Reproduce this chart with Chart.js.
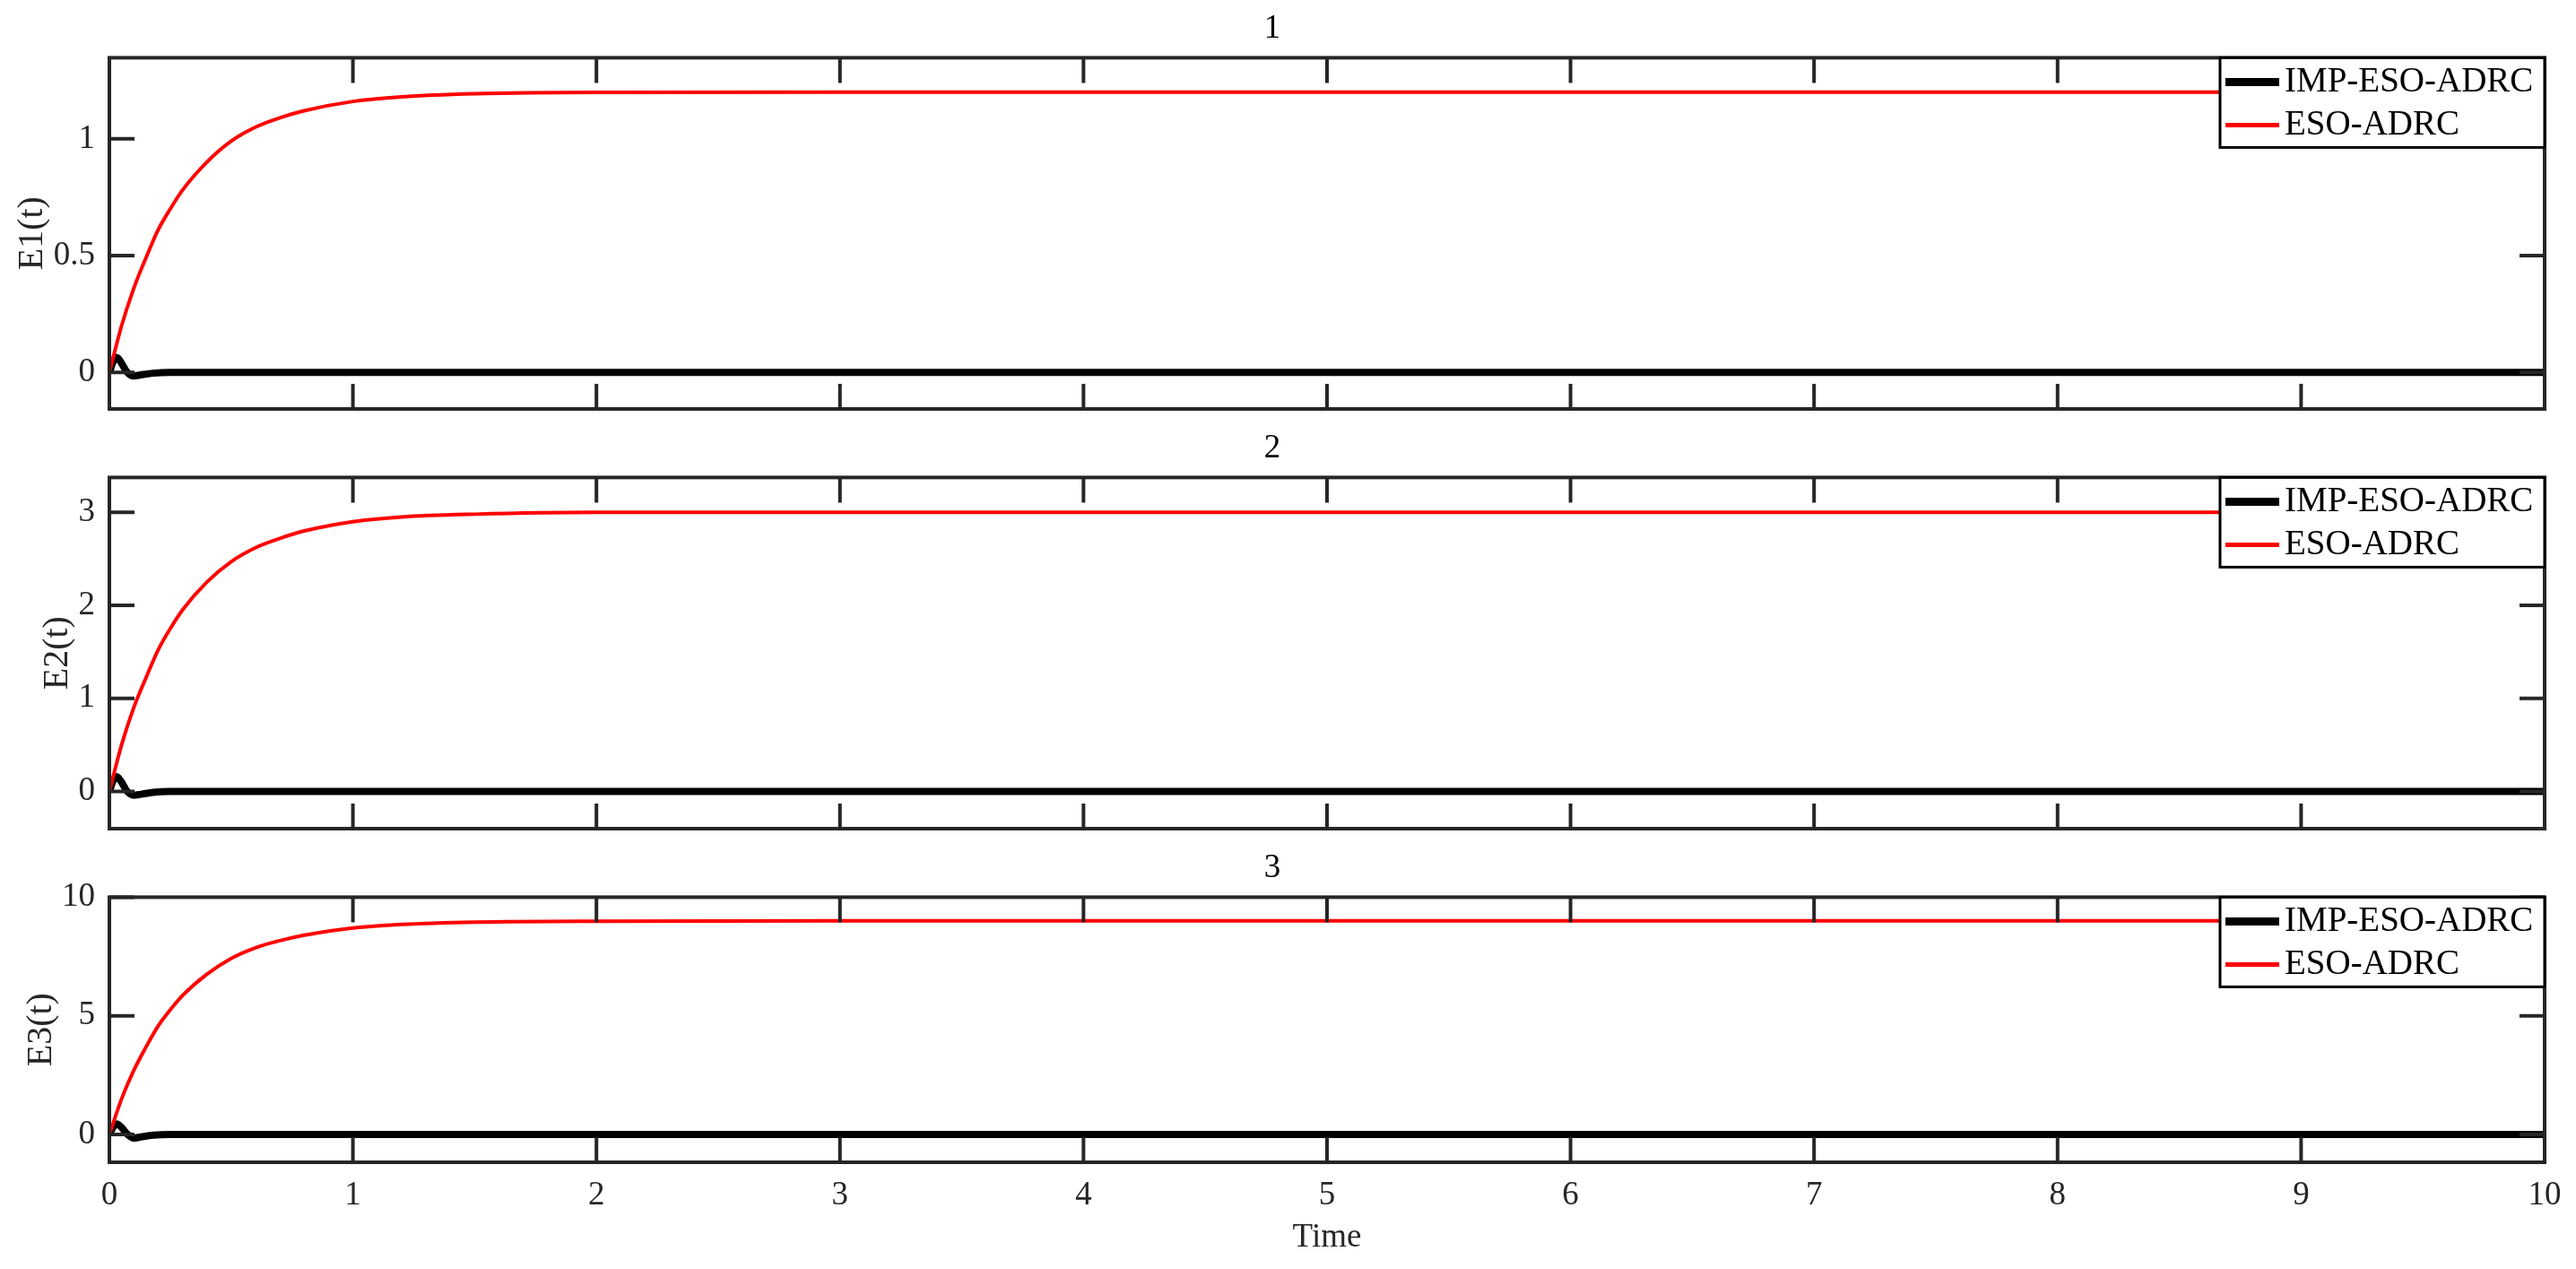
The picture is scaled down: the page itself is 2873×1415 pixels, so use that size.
<!DOCTYPE html>
<html>
<head>
<meta charset="utf-8">
<script src="https://cdn.jsdelivr.net/npm/chart.js@4.4.0/dist/chart.umd.min.js"></script>
<style>
  body { margin: 0; background: #fff; }
  #wrap { position: relative; width: 2873px; height: 1415px; }
  #wrap canvas { position: absolute; left: 0; }
</style>
</head>
<body>
<div id="wrap">
  <canvas id="c1" width="2873" height="466" style="top:0px"></canvas>
  <canvas id="c2" width="2873" height="466" style="top:468px"></canvas>
  <canvas id="c3" width="2873" height="479" style="top:936px"></canvas>
</div>
<script>
// values
const seriesNames = ['IMP-ESO-ADRC', 'ESO-ADRC'];
const panelTitles = ['1', '2', '3'];
const yTitles = ['E1(t)', 'E2(t)', 'E3(t)'];
const timeTicks = [0, 1, 2, 3, 4, 5, 6, 7, 8, 9, 10];

const redTime = [0, 0.05, 0.1, 0.15, 0.2, 0.25, 0.3, 0.4, 0.5, 0.6, 0.7, 0.8, 1.0, 1.2, 1.5, 2.0, 3.0, 10];
const red1 = [0, 0.20, 0.36, 0.49, 0.61, 0.70, 0.78, 0.90, 0.99, 1.05, 1.09, 1.12, 1.16, 1.18, 1.193, 1.199, 1.2, 1.2];
const red2 = [0, 0.50, 0.90, 1.22, 1.52, 1.75, 1.95, 2.25, 2.47, 2.62, 2.72, 2.80, 2.90, 2.95, 2.98, 3.0, 3.0, 3.0];
const red3 = [0, 1.50, 2.70, 3.68, 4.57, 5.25, 5.85, 6.75, 7.42, 7.87, 8.17, 8.40, 8.70, 8.85, 8.95, 8.99, 9.0, 9.0];

const blackTime = [0, 0.015, 0.03, 0.05, 0.07, 0.1, 0.13, 0.18, 0.25, 10];
const black1 = [0, 0.045, 0.065, 0.04, 0.005, -0.015, -0.01, -0.003, 0, 0];
const black2 = [0, 0.11, 0.16, 0.1, 0.01, -0.04, -0.03, -0.01, 0, 0];
const black3 = [0, 0.3, 0.45, 0.3, 0.05, -0.15, -0.1, -0.03, 0, 0];

const yTicks1 = [0, 0.5, 1];
const yTicks2 = [0, 1, 2, 3];
const yTicks3 = [0, 5, 10];
const yRange1 = [-0.156, 1.347];
const yRange2 = [-0.40, 3.375];
const yRange3 = [-1.17, 10];

Chart.defaults.font.family = "'Liberation Serif', 'Times New Roman', serif";
Chart.defaults.color = '#262626';

const axisColor = '#262626';
const tickLen = 28;

const toPoints = (xs, ys) => xs.map((x, i) => ({ x: x, y: ys[i] }));

// MATLAB-like box with inward ticks, plus the boxed legend in the corner
const framePlugin = {
  id: 'frame',
  afterDatasetsDraw(chart, args, opts) {
    const { ctx, chartArea: a, scales } = chart;
    ctx.save();
    ctx.strokeStyle = axisColor;
    ctx.lineWidth = 4;
    ctx.beginPath();
    timeTicks.forEach(v => {
      const px = scales.x.getPixelForValue(v);
      ctx.moveTo(px, a.bottom); ctx.lineTo(px, a.bottom - tickLen);
      ctx.moveTo(px, a.top); ctx.lineTo(px, a.top + tickLen);
    });
    opts.yTicks.forEach(v => {
      const py = scales.y.getPixelForValue(v);
      ctx.moveTo(a.left, py); ctx.lineTo(a.left + tickLen, py);
      ctx.moveTo(a.right, py); ctx.lineTo(a.right - tickLen, py);
    });
    ctx.stroke();
    ctx.strokeRect(a.left, a.top, a.right - a.left, a.bottom - a.top);

    // legend
    const w = 362, h = 100;
    const left = a.right - w, top = a.top;
    ctx.fillStyle = '#fff';
    ctx.fillRect(left, top, w, h);
    ctx.strokeStyle = '#000';
    ctx.lineWidth = 3;
    ctx.strokeRect(left, top, w, h);
    ctx.font = "39px 'Liberation Serif', 'Times New Roman', serif";
    ctx.textBaseline = 'middle';
    ctx.textAlign = 'left';
    const rows = [top + 27, top + 75];
    const legendOrder = [1, 0]; // black entry first
    legendOrder.forEach((di, r) => {
      const ds = chart.data.datasets[di];
      ctx.strokeStyle = ds.borderColor;
      ctx.lineWidth = ds.borderWidth + 1;
      ctx.beginPath();
      ctx.moveTo(left + 6, rows[r]);
      ctx.lineTo(left + 66, rows[r]);
      ctx.stroke();
      ctx.fillStyle = '#000';
      ctx.fillText(ds.label, left + 72, rows[r]);
    });
    ctx.restore();
  }
};

function makePanel(id, idx, red, black, yTicks, yRange, yTitlePad, isLast) {
  const ctx = document.getElementById(id).getContext('2d');
  return new Chart(ctx, {
    type: 'line',
    data: {
      datasets: [
        {
          label: seriesNames[1],
          data: toPoints(redTime, red),
          borderColor: '#ff0000',
          borderWidth: 4,
          pointRadius: 0,
          cubicInterpolationMode: 'monotone',
          order: 0,
        },
        {
          label: seriesNames[0],
          data: toPoints(blackTime, black),
          borderColor: '#000000',
          borderWidth: 8,
          pointRadius: 0,
          cubicInterpolationMode: 'monotone',
          order: 1,
        },
      ]
    },
    options: {
      responsive: false,
      animation: false,
      events: [],
      layout: { padding: { left: 0, right: 35, top: 0, bottom: isLast ? 0 : 10 } },
      plugins: {
        legend: { display: false },
        tooltip: { enabled: false },
        title: {
          display: true,
          text: panelTitles[idx],
          color: '#000',
          font: { size: 37, weight: 'normal' },
          padding: { top: 10, bottom: 10 },
        },
        frame: { yTicks: yTicks },
      },
      scales: {
        x: {
          type: 'linear',
          min: 0,
          max: 10,
          afterBuildTicks: s => { s.ticks = timeTicks.map(v => ({ value: v })); },
          afterFit: s => { s.height = isLast ? 119 : 0; },
          grid: { display: false, drawTicks: false },
          border: { display: false },
          ticks: {
            display: isLast,
            padding: 15,
            maxRotation: 0,
            color: '#262626',
            font: { size: 37 },
            callback: v => String(v),
          },
          title: {
            display: isLast,
            text: 'Time',
            color: '#262626',
            font: { size: 37 },
            padding: { top: 0, bottom: 13 },
          },
        },
        y: {
          min: yRange[0],
          max: yRange[1],
          afterBuildTicks: s => { s.ticks = yTicks.map(v => ({ value: v })); },
          afterFit: s => { s.width = 122; s.paddingTop = 0; s.paddingBottom = 0; },
          grid: { display: false, drawTicks: false },
          border: { display: false },
          ticks: {
            padding: 16,
            color: '#262626',
            font: { size: 37 },
            callback: v => String(v),
          },
          title: {
            display: true,
            text: yTitles[idx],
            color: '#262626',
            font: { size: 40 },
            padding: { top: yTitlePad, bottom: 0 },
          },
        },
      },
    },
    plugins: [framePlugin],
  });
}

makePanel('c1', 0, red1, black1, yTicks1, yRange1, 12, false);
makePanel('c2', 1, red2, black2, yTicks2, yRange2, 40, false);
makePanel('c3', 2, red3, black3, yTicks3, yRange3, 22, true);
</script>
</body>
</html>
